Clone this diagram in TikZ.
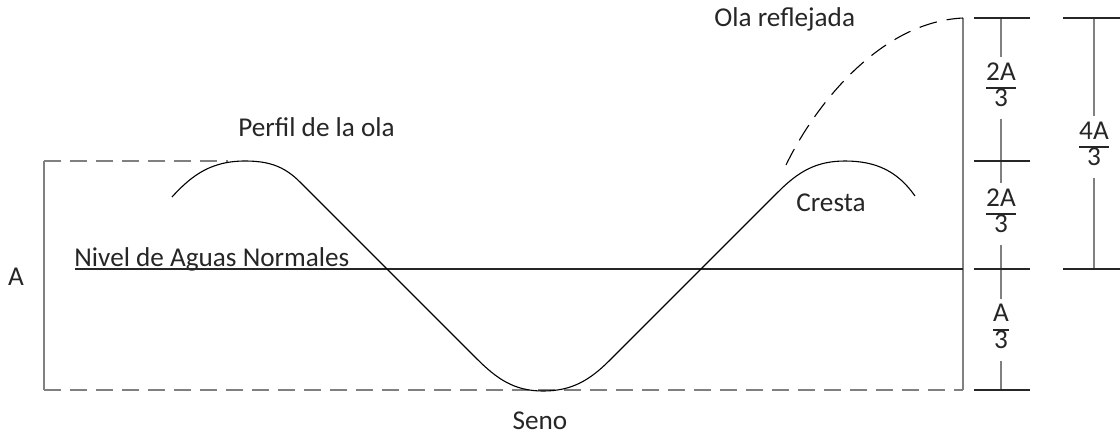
\documentclass[tikz,border=0pt]{standalone}
\usepackage{fontspec}
\setmainfont{Carlito}
\usepackage{array}
\newcommand\myfrac[2]{{\renewcommand\arraystretch{0.72}\setlength\arrayrulewidth{1pt}\begin{tabular}{@{}c@{}}#1\\\hline #2\end{tabular}}}
\begin{document}
\begin{tikzpicture}[x=0.5pt,y=-0.5pt,
  lbl/.style={text=black!85, inner sep=0pt, font=\fontsize{13.6}{16}\selectfont},
  fraclbl/.style={text=black!85, inner sep=2.5pt, font=\fontsize{13.6}{16}\selectfont},
  guide/.style={draw=black!50, line width=0.6pt},
  dashdash/.style={dash pattern=on 8.5pt off 4.5pt},
  tickline/.style={draw=black!85, line width=1pt},
  scaleline/.style={draw=black!50, line width=0.6pt},
  wave/.style={draw=black, line width=0.55pt},
  refl/.style={draw=black, line width=0.55pt, dash pattern=on 9pt off 5pt},
  level/.style={draw=black!85, line width=0.85pt}]
\useasboundingbox (0,0) rectangle (1120,435);
% frame
\coordinate (rtl) at (44,161);
\coordinate (rtd) at (228,161);
\coordinate (rbl) at (44,390);
\coordinate (rbr) at (963,390);
\coordinate (rtr) at (963,18);
\draw[guide,dashdash] (rtl) -- (rtd);
\draw[guide] (rtl) -- (rbl);
\draw[guide,dashdash] (rbl) -- (rbr);
\draw[guide] (rbr) -- (rtr);
% level line
\coordinate (n0) at (75,269);
\coordinate (n1) at (963,269);
\draw[level] (n0) -- (n1);
% wave
\coordinate (w0) at (172,197);
\coordinate (w1) at (245,161);
\coordinate (w2) at (300,182);
\coordinate (w3) at (476,358);
\coordinate (w4) at (543,391);
\coordinate (w5) at (610,360);
\coordinate (w6) at (778,192);
\coordinate (w7) at (845,161);
\coordinate (w8) at (915,196);
\draw[wave] (w0) to[out=48,in=180] (w1) to[out=0,in=135] (w2) -- (w3)
  to[out=-45,in=180] (w4) to[out=0,in=-135] (w5) -- (w6)
  to[out=45,in=180] (w7) to[out=0,in=125] (w8);
% reflected wave
\coordinate (rs) at (786,165);
\draw[refl] (rs) .. controls (815,105) and (880,22) .. (rtr);
% labels
\node[lbl, anchor=west] (ola) at (714,19) {Ola reflejada};
\node[lbl, anchor=west] (perfil) at (238,127) {Perfil de la ola};
\node[lbl, anchor=base west] (nivel) at (74,266) {Nivel de Aguas Normales};
\node[lbl] (alab) at (16,277) {A};
\node[lbl] (cresta) at (831,203) {Cresta};
\node[lbl] (seno) at (540,421) {Seno};
% scale 1
\foreach \n/\y in {a/18,b/161,c/269,d/390}{
  \coordinate (L\n) at (974,\y);
  \coordinate (R\n) at (1030,\y);
  \coordinate (M\n) at (1001,\y);
}
\node[fraclbl] (f1) at (1001,88) {\myfrac{2A}{3}};
\node[fraclbl] (f2) at (1001,214) {\myfrac{2A}{3}};
\node[fraclbl] (f3) at (1001,330) {\myfrac{A}{3}};
\draw[scaleline] (Ma) -- (f1.north);
\draw[scaleline] (f1.south) -- (f2.north);
\draw[scaleline] (f2.south) -- (f3.north);
\draw[scaleline] (f3.south) -- (Md);
\foreach \n in {a,b,c,d}{\draw[tickline] (L\n) -- (R\n);}
% scale 2
\coordinate (P1) at (1063,18);
\coordinate (Q1) at (1120,18);
\coordinate (N1) at (1094,18);
\coordinate (P2) at (1063,269);
\coordinate (Q2) at (1120,269);
\coordinate (N2) at (1094,269);
\node[fraclbl] (f4) at (1094,147) {\myfrac{4A}{3}};
\draw[scaleline] (N1) -- (f4.north);
\draw[scaleline] (f4.south) -- (N2);
\draw[tickline] (P1) -- (Q1);
\draw[tickline] (P2) -- (Q2);
\end{tikzpicture}
\end{document}
